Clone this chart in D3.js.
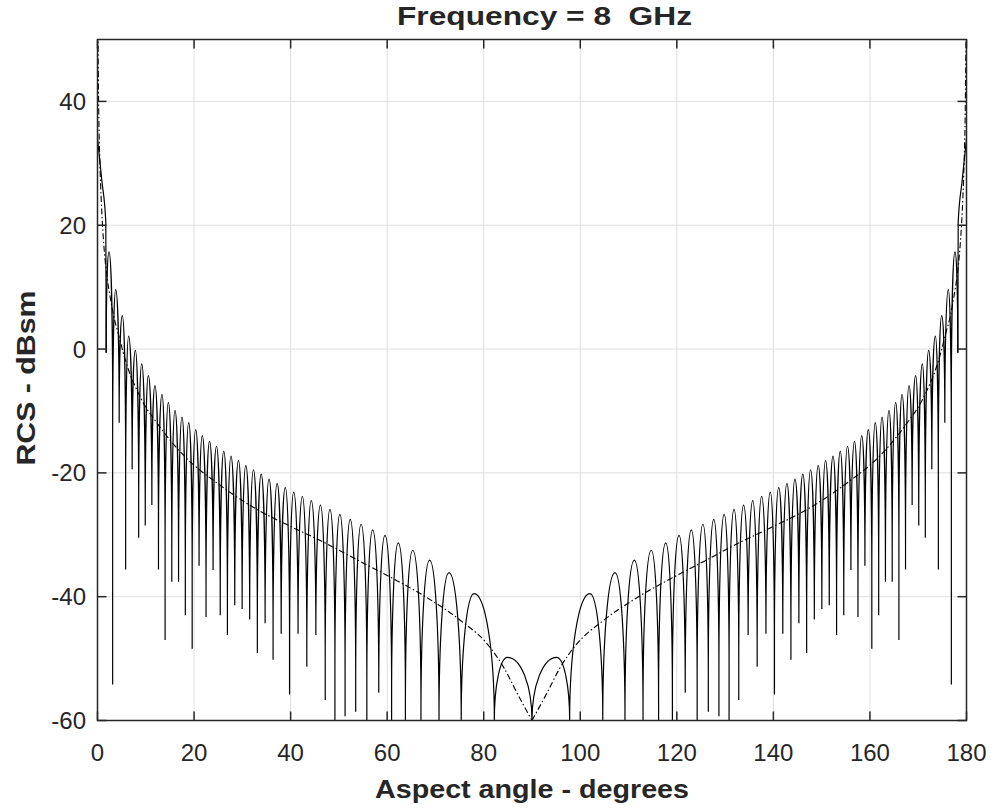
<!DOCTYPE html>
<html>
<head>
<meta charset="utf-8">
<script src="https://cdn.jsdelivr.net/npm/d3@7"></script>
<style>
  body { margin: 0; background: #fff; }
  text { font-family: "Liberation Sans", Arial, Helvetica, sans-serif; fill: #262626; }
</style>
</head>
<body>
<svg id="chart" width="995" height="809"></svg>
<script>
// RCS of a circular flat plate vs aspect angle

// null positions (deg) and the depth the sampled curve reaches there (dBsm)
var nullAngles = [1.8, 3.14, 4.49, 5.83, 7.18, 8.53, 9.89, 11.26, 12.63, 14.0, 15.39, 16.79, 18.19, 19.61, 21.04,
  22.48, 23.94, 25.42, 26.91, 28.43, 29.96, 31.52, 33.11, 34.72, 36.37, 38.05, 39.78, 41.54, 43.36, 45.23,
  47.17, 49.18, 51.28, 53.48, 55.79, 58.26, 60.92, 63.78, 67.0, 70.74, 75.34, 82.2, 90,
  97.8, 104.66, 109.26, 113.0, 116.22, 119.08, 121.74, 124.21, 126.52, 128.72, 130.82, 132.83, 134.77, 136.64,
  138.46, 140.22, 141.95, 143.63, 145.28, 146.89, 148.48, 150.04, 151.57, 153.09, 154.58, 156.06, 157.52, 158.96,
  160.39, 161.81, 163.21, 164.61, 166.0, 167.37, 168.74, 170.11, 171.47, 172.82, 174.17, 175.51, 176.86, 178.2];
var nullDepths = [-0.6, -54.2, -11.9, -35.6, -19.4, -30.5, -28.5, -25.2, -35.6, -47.0, -37.6, -37.6, -43.0, -48.4, -35.0,
  -43.3, -35.7, -43.0, -46.2, -41.4, -42.0, -43.7, -49.1, -44.3, -50.2, -46.0, -55.8, -46.0, -51.3, -46.2,
  -56.7, -60, -59.3, -58.6, -60, -55.5, -60, -60, -60, -60, -60, -60, -60,
  -60, -60, -60, -60, -60, -60, -55.5, -60, -58.6, -59.3, -60, -56.7, -46.2, -51.3,
  -46.0, -55.8, -46.0, -50.2, -44.3, -49.1, -43.7, -42.0, -41.4, -46.2, -43.0, -35.7, -43.3, -35.0,
  -48.4, -43.0, -37.6, -37.6, -47.0, -35.6, -25.2, -28.5, -30.5, -19.4, -35.6, -11.9, -54.2, -0.6];

// side lobe peaks
var peakAngles = [2.38, 3.77, 5.14, 6.45, 7.84, 9.15, 10.53, 11.9, 13.36, 14.67, 16.05, 17.5, 18.89, 20.34,
  21.7, 23.2, 24.65, 26.15, 27.65, 29.2, 30.72, 32.3, 33.9, 35.53, 37.2, 38.9, 40.65, 42.43, 44.28,
  46.18, 48.15, 50.2, 52.35, 54.6, 57.0, 59.55, 62.3, 65.3, 68.8, 72.8, 78.0, 84.9,
  95.1, 102.0, 107.2, 111.2, 114.7, 117.7, 120.45, 123.0, 125.4, 127.65, 129.8, 131.85, 133.82, 135.72,
  137.57, 139.35, 141.1, 142.8, 144.47, 146.1, 147.7, 149.28, 150.8, 152.35, 153.85, 155.35, 156.8, 158.3,
  159.66, 161.1, 162.5, 163.95, 165.33, 166.64, 168.1, 169.47, 170.85, 172.16, 173.55, 174.86, 176.23, 177.62];
var peakValues = [15.7, 9.6, 5.4, 2.1, -0.2, -2.4, -4.3, -5.9, -7.3, -8.6, -9.9, -11.0, -11.9, -13.0,
  -14.0, -14.9, -15.7, -16.5, -17.3, -18.0, -18.8, -19.5, -20.2, -21.0, -21.7, -22.4, -23.1, -23.8, -24.5,
  -25.2, -25.9, -26.7, -27.5, -28.3, -29.2, -30.1, -31.3, -32.5, -34.1, -36.1, -39.5, -49.8,
  -49.8, -39.5, -36.1, -34.1, -32.5, -31.3, -30.1, -29.2, -28.3, -27.5, -26.7, -25.9, -25.2, -24.5,
  -23.8, -23.1, -22.4, -21.7, -21.0, -20.2, -19.5, -18.8, -18.0, -17.3, -16.5, -15.7, -14.9, -14.0,
  -13.0, -11.9, -11.0, -9.9, -8.6, -7.3, -5.9, -4.3, -2.4, -0.2, 2.1, 5.4, 9.6, 15.7];

// main lobe edges at 0 and 180 deg
var mainLeftAngles = [0, 0.9, 1.72, 1.8];
var mainLeftValues = [34, 27.2, 20.5, -0.6];
var mainRightAngles = [178.2, 178.28, 179.1, 180];
var mainRightValues = [-0.6, 20.5, 27.2, 34];

// dash-dot envelope
var envAngles = [0.1, 0.25, 0.5, 0.75, 1, 1.5, 2, 2.6, 3.3, 4.3, 5.3, 6.4, 8.45, 10, 11.9, 14, 16, 18, 20.2,
  24, 28.1, 33.7, 40.4, 47.1, 54.4, 60.8, 67.7, 75.3, 80.8, 84.2, 87, 90,
  93, 95.8, 99.2, 104.7, 112.3, 119.2, 125.6, 132.9, 139.6, 146.3, 151.9, 156, 159.8, 162, 164, 166,
  168.1, 170, 171.55, 173.6, 174.7, 175.7, 176.7, 177.4, 178, 178.5, 179, 179.25, 179.5, 179.75, 179.9];
var envValues = [51, 39, 30, 24.5, 20.5, 15, 11.5, 8.5, 5.5, 2.5, -0.5, -3.3, -7.1, -9.4, -11.5, -13.7, -15.6, -17.3, -18.9,
  -21.2, -23.5, -26.2, -28.8, -31.3, -34.3, -36.9, -39.9, -43.9, -47.7, -51.5, -55.7, -60,
  -55.7, -51.5, -47.7, -43.9, -39.9, -36.9, -34.3, -31.3, -28.8, -26.2, -23.5, -21.2, -18.9, -17.3, -15.6, -13.7,
  -11.5, -9.4, -7.1, -3.3, -0.5, 2.5, 5.5, 8.5, 11.5, 15, 20.5, 24.5, 30, 39, 51];

var xTicks = [0, 20, 40, 60, 80, 100, 120, 140, 160, 180];
var yTicks = [-60, -40, -20, 0, 20, 40];

var svg = d3.select("#chart");
var pLeft = 97.5, pRight = 966.5, pTop = 39.5, pBottom = 720.5;
var axisColor = "#262626";

var x = d3.scaleLinear().domain([0, 180]).range([pLeft, pRight]);
var y = d3.scaleLinear().domain([-60, 50]).range([pBottom, pTop]);

svg.append("defs").append("clipPath").attr("id", "plot")
  .append("rect").attr("x", pLeft).attr("y", pTop)
  .attr("width", pRight - pLeft).attr("height", pBottom - pTop);

// grid
var grid = svg.append("g").attr("stroke", "#dfdfdf").attr("stroke-width", 1);
grid.selectAll(".gx").data(xTicks.slice(1, -1)).enter().append("line")
  .attr("x1", d => x(d)).attr("x2", d => x(d)).attr("y1", pTop).attr("y2", pBottom);
grid.selectAll(".gy").data(yTicks.slice(1)).enter().append("line")
  .attr("y1", d => y(d)).attr("y2", d => y(d)).attr("x1", pLeft).attr("x2", pRight);

var plot = svg.append("g").attr("clip-path", "url(#plot)");

// envelope, split at 90 so the cusp stays sharp
var envPts = envAngles.map((a, i) => [a, envValues[i]]);
var envLine = d3.line().x(d => x(d[0])).y(d => y(d[1])).curve(d3.curveMonotoneX);
[envPts.filter(d => d[0] <= 90), envPts.filter(d => d[0] >= 90)].forEach(function(pts) {
  plot.append("path").attr("d", envLine(pts))
    .attr("fill", "none").attr("stroke", "#000").attr("stroke-width", 1.1)
    .attr("stroke-dasharray", "6,2.5,1.5,2.5");
});

// main lobe edges
var lobeLine = d3.line().x(d => x(d[0])).y(d => y(d[1])).curve(d3.curveMonotoneX);
plot.append("path").attr("d", lobeLine(mainLeftAngles.map((a, i) => [a, mainLeftValues[i]])))
  .attr("fill", "none").attr("stroke", "#000").attr("stroke-width", 1.2);
plot.append("path").attr("d", lobeLine(mainRightAngles.map((a, i) => [a, mainRightValues[i]])))
  .attr("fill", "none").attr("stroke", "#000").attr("stroke-width", 1.2);

// side lobes: rounded arch from null to peak to null
var shoulder = 25, k = 0.5523;
var lp = d3.path();
lp.moveTo(x(nullAngles[0]), y(nullDepths[0]));
peakAngles.forEach(function(pa, i) {
  var pv = peakValues[i];
  var s0 = Math.max(nullDepths[i], pv - shoulder);
  var s1 = Math.max(nullDepths[i + 1], pv - shoulder);
  var X0 = x(nullAngles[i]), X1 = x(nullAngles[i + 1]), XP = x(pa), YP = y(pv);
  var S0 = y(s0), S1 = y(s1);
  lp.lineTo(X0, S0);
  lp.bezierCurveTo(X0, S0 + k * (YP - S0), XP - k * (XP - X0), YP, XP, YP);
  lp.bezierCurveTo(XP + k * (X1 - XP), YP, X1, S1 + k * (YP - S1), X1, S1);
  lp.lineTo(X1, y(nullDepths[i + 1]));
});
plot.append("path").attr("d", lp.toString())
  .attr("fill", "none").attr("stroke", "#000").attr("stroke-width", 1.2);

// box and ticks
svg.append("rect").attr("x", pLeft).attr("y", pTop)
  .attr("width", pRight - pLeft).attr("height", pBottom - pTop)
  .attr("fill", "none").attr("stroke", axisColor).attr("stroke-width", 1.5);

var tl = 9;
var ticks = svg.append("g").attr("stroke", axisColor).attr("stroke-width", 1.5);
xTicks.forEach(function(t) {
  ticks.append("line").attr("x1", x(t)).attr("x2", x(t)).attr("y1", pBottom).attr("y2", pBottom - tl);
  ticks.append("line").attr("x1", x(t)).attr("x2", x(t)).attr("y1", pTop).attr("y2", pTop + tl);
});
yTicks.forEach(function(t) {
  ticks.append("line").attr("y1", y(t)).attr("y2", y(t)).attr("x1", pLeft).attr("x2", pLeft + tl);
  ticks.append("line").attr("y1", y(t)).attr("y2", y(t)).attr("x1", pRight).attr("x2", pRight - tl);
});

svg.selectAll(".xl").data(xTicks).enter().append("text")
  .attr("x", d => x(d)).attr("y", 760.5)
  .attr("text-anchor", "middle").attr("font-size", 24).text(d => d);
svg.selectAll(".yl").data(yTicks).enter().append("text")
  .attr("x", 86).attr("y", d => y(d) + 8.5)
  .attr("text-anchor", "end").attr("font-size", 24).text(d => d);

svg.append("text").attr("x", 532).attr("y", 798)
  .attr("text-anchor", "middle").attr("font-size", 26).attr("font-weight", "bold")
  .attr("textLength", 314).attr("lengthAdjust", "spacingAndGlyphs")
  .text("Aspect angle - degrees");

svg.append("text").attr("transform", "translate(35,378) rotate(-90)")
  .attr("text-anchor", "middle").attr("font-size", 26).attr("font-weight", "bold")
  .attr("textLength", 175).attr("lengthAdjust", "spacingAndGlyphs")
  .text("RCS - dBsm");

svg.append("text").attr("x", 544.5).attr("y", 25)
  .attr("text-anchor", "middle").attr("font-size", 26).attr("font-weight", "bold")
  .attr("textLength", 295).attr("lengthAdjust", "spacingAndGlyphs")
  .style("white-space", "pre")
  .text("Frequency = 8  GHz");
</script>
</body>
</html>
